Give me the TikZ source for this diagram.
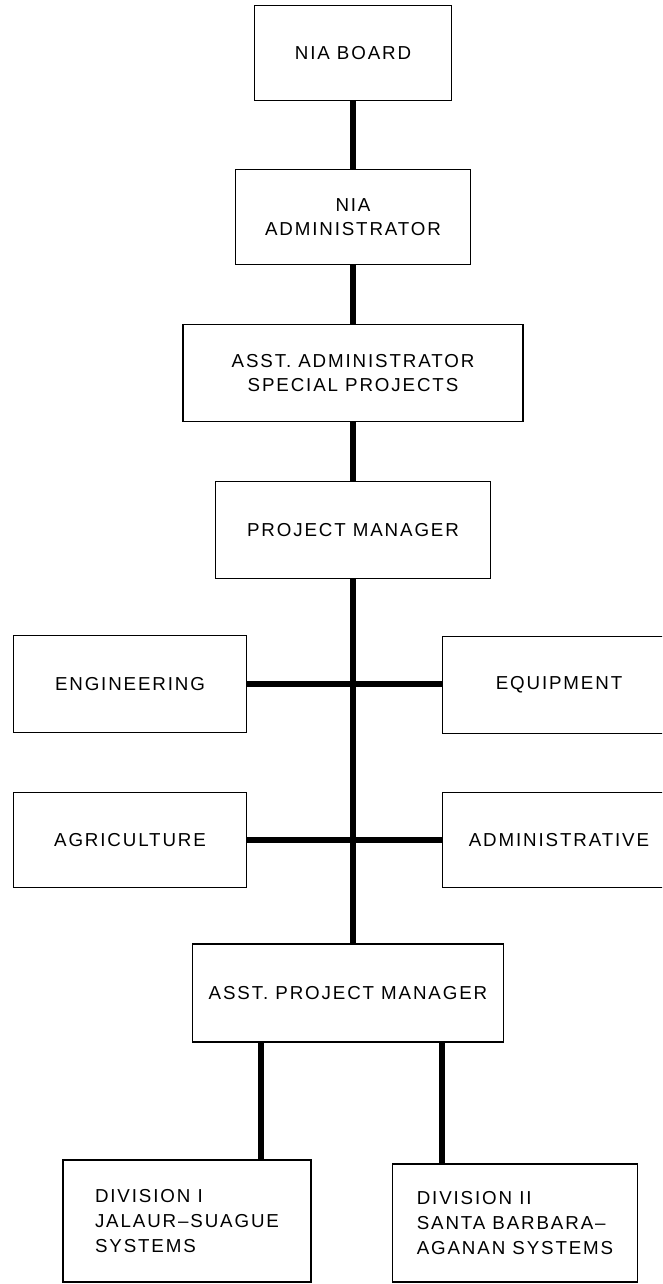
\documentclass[tikz,border=0pt]{standalone}
\usepackage{fontspec}
\setmainfont{Liberation Sans}[LetterSpace=10]
\usetikzlibrary{calc}
\tikzstyle{orgbox} = [draw=black, fill=white, line width=1.4pt,
    rectangle, inner sep=0pt, minimum height=2.9cm, align=center,
    font=\fontsize{16}{21}\selectfont]
\tikzstyle{link} = [line width=5pt]

\begin{document}
\begin{tikzpicture}[x=0.03cm, y=-0.03cm]
                \useasboundingbox (0,0) rectangle (662,1284);
                \clip (0,0) rectangle (662,1284);
                % top of the chain
                \node[orgbox, minimum width=5.9cm, minimum height=2.85cm] (board) at (353,53) {NIA BOARD};
                \node[orgbox, minimum width=7.05cm, minimum height=2.85cm] (admin) at (353,217) {NIA\\ADMINISTRATOR};
                \node[orgbox, minimum width=10.2cm] (asstadmin) at (353,373) {ASST. ADMINISTRATOR\\SPECIAL PROJECTS};
                \node[orgbox, minimum width=8.25cm] (pm) at (353,530) {PROJECT MANAGER};
                % staff offices, the right column runs off the page
                \node[orgbox, minimum width=7cm] (eng) at (130,684) {ENGINEERING};
                \node[orgbox, minimum width=7cm] (equip) at (559,685) {EQUIPMENT};
                \node[orgbox, minimum width=7cm, minimum height=2.85cm] (agri) at (130,840) {AGRICULTURE};
                \node[orgbox, minimum width=7cm, minimum height=2.85cm] (adminv) at (559,840) {ADMINISTRATIVE};
                \node[orgbox, minimum width=9.33cm, minimum height=2.95cm] (apm) at (348,993) {ASST. PROJECT MANAGER};
                % divisions
                \node[orgbox, align=left, minimum width=7.45cm, minimum height=3.66cm] (div1) at (187,1221)
                    {DIVISION I\\JALAUR--SUAGUE\\SYSTEMS};
                \node[orgbox, align=left, minimum width=7.35cm, minimum height=3.54cm] (div2) at (515,1223)
                    {DIVISION II\\SANTA BARBARA--\\AGANAN SYSTEMS};
                % connectors
                \draw[link] (board) -- (admin);
                \draw[link] (admin) -- (asstadmin);
                \draw[link] (asstadmin) -- (pm);
                \draw[link] (pm.south) -- (pm.south |- apm.north);
                \draw[link] (eng.east) -- (eng.east -| equip.west);
                \draw[link] (agri.east) -- (agri.east -| adminv.west);
                \draw[link] ($(div1.north east)+(-51,0)$) coordinate (d1) -- (d1 |- apm.south);
                \draw[link] ($(div2.north west)+(50,0)$) coordinate (d2) -- (d2 |- apm.south);
            \end{tikzpicture}
\end{document}
